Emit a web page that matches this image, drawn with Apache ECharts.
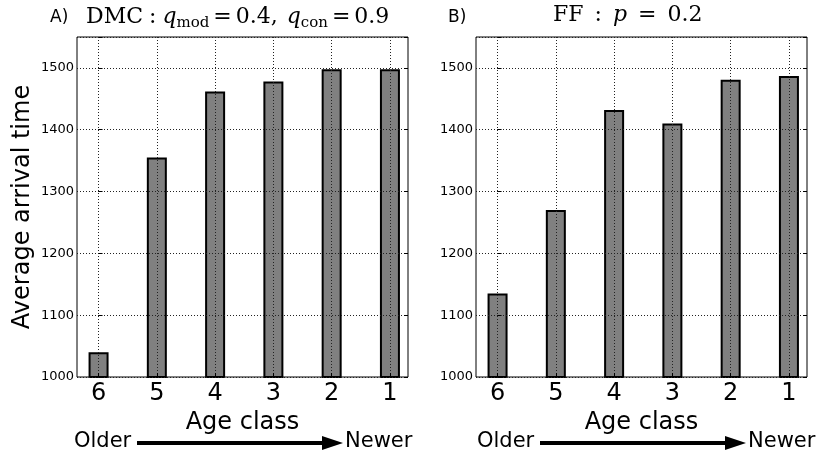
<!DOCTYPE html>
<html>
<head>
<meta charset="utf-8">
<script src="https://cdn.jsdelivr.net/npm/echarts@6/dist/echarts.min.js"></script>
<style>
  html, body { margin: 0; padding: 0; background: #fff; }
  #chart { width: 817px; height: 456px; }
</style>
</head>
<body>
<div id="chart"></div>
<script>
// Age classes, oldest first
const ageClasses = ['6', '5', '4', '3', '2', '1'];
const ageIndex = [0, 1, 2, 3, 4, 5];
// Average arrival time per age class
const dmcTimes = [1040, 1355, 1462, 1478, 1498, 1498];
const ffTimes = [1135, 1270, 1432, 1410, 1481, 1487];
const yMin = 1000, yMax = 1550, yStep = 100;

const SANS = 'DejaVu Sans';
const SERIF = 'DejaVu Serif';
const gridLine = { show: true, lineStyle: { color: '#222', width: 1, type: [1, 2] } };

// axes live on a layer above the bars so the dotted grid runs through them
function xAxisFor(gi) {
  return {
    gridIndex: gi, type: 'value', min: -0.37, max: 5.31, zlevel: 1,
    axisLine: { show: false },
    axisTick: { show: true, inside: true, length: 4, customValues: ageIndex, lineStyle: { color: '#000' } },
    axisLabel: {
      customValues: ageIndex, margin: 5, fontSize: 24, fontFamily: SANS, color: '#000',
      formatter: v => ageClasses[Math.round(v)]
    },
    splitLine: gridLine,
    name: 'Age class', nameLocation: 'middle', nameGap: 27,
    nameTextStyle: { fontSize: 24, fontFamily: SANS, color: '#000' }
  };
}
function yAxisFor(gi, withName) {
  return {
    gridIndex: gi, type: 'value', min: yMin, max: yMax, interval: yStep, zlevel: 1,
    axisLine: { show: false },
    axisTick: { show: true, inside: true, length: 4, lineStyle: { color: '#000' } },
    axisLabel: {
      margin: 3, fontSize: 13, fontFamily: SANS, color: '#000',
      formatter: v => (v % yStep === 0 ? String(v) : '')
    },
    splitLine: gridLine,
    name: withName ? 'Average arrival time' : '',
    nameLocation: 'middle', nameGap: 42, nameRotate: 90,
    nameTextStyle: { fontSize: 24, fontFamily: SANS, color: '#000' }
  };
}
function yRightFor(gi) {
  return {
    gridIndex: gi, type: 'value', min: yMin, max: yMax, interval: yStep, position: 'right', zlevel: 1,
    axisLine: { show: false },
    axisTick: { show: true, inside: true, length: 4, lineStyle: { color: '#000' } },
    axisLabel: { show: false }, splitLine: { show: false }
  };
}
function barSeries(gi, values) {
  return {
    type: 'bar', xAxisIndex: gi, yAxisIndex: gi * 2,
    data: ageIndex.map(i => [i, values[i]]),
    barWidth: 20,
    itemStyle: { color: '#808080', borderColor: '#000', borderWidth: 2 },
    silent: true
  };
}
function arrow(dx) {
  return [
    { type: 'text', left: 74 + dx, top: 431, style: { text: 'Older', fontSize: 21, fontFamily: SANS, fill: '#000' } },
    { type: 'line', shape: { x1: 137 + dx, y1: 443, x2: 325 + dx, y2: 443 }, style: { stroke: '#000', lineWidth: 4 } },
    { type: 'polygon', shape: { points: [[322 + dx, 436], [343 + dx, 443], [322 + dx, 450]] }, style: { fill: '#000' } },
    { type: 'text', left: 345 + dx, top: 431, style: { text: 'Newer', fontSize: 21, fontFamily: SANS, fill: '#000' } }
  ];
}
// math-style title pieces: upright, italic, subscript and fixed gaps
const titleRich = {
  n: { fontSize: 22, fontFamily: SERIF, color: '#000', lineHeight: 30 },
  i: { fontSize: 22, fontFamily: SERIF, fontStyle: 'italic', color: '#000', lineHeight: 30 },
  s: { fontSize: 15, fontFamily: SERIF, color: '#000', lineHeight: 30, padding: [12, 0, 0, 0] },
  g4: { fontSize: 22, lineHeight: 30, width: 4 },
  g6: { fontSize: 22, lineHeight: 30, width: 6 },
  g9: { fontSize: 22, lineHeight: 30, width: 9 },
  g11: { fontSize: 22, lineHeight: 30, width: 11 }
};

const chart = echarts.init(document.getElementById('chart'), null, { renderer: 'canvas' });
chart.setOption({
  backgroundColor: '#fff',
  animation: false,
  grid: [
    { left: 77, top: 37, width: 331, height: 340, show: true, borderColor: '#000', borderWidth: 1, backgroundColor: 'transparent', zlevel: 1 },
    { left: 476, top: 37, width: 331, height: 340, show: true, borderColor: '#000', borderWidth: 1, backgroundColor: 'transparent', zlevel: 1 }
  ],
  xAxis: [xAxisFor(0), xAxisFor(1)],
  yAxis: [yAxisFor(0, true), yRightFor(0), yAxisFor(1, false), yRightFor(1)],
  series: [barSeries(0, dmcTimes), barSeries(1, ffTimes)],
  graphic: [
    { type: 'text', left: 50, top: 9, style: { text: 'A)', fontSize: 17, fontFamily: SANS, fill: '#000' } },
    { type: 'text', left: 448, top: 9, style: { text: 'B)', fontSize: 17, fontFamily: SANS, fill: '#000' } },
    { type: 'text', left: 86, top: 4, style: {
        text: '{n|DMC}{g6| }{n|:}{g6| }{i|q}{s|mod}{g4| }{n|=}{g4| }{n|0.4,}{g9| }{i|q}{s|con}{g4| }{n|=}{g4| }{n|0.9}',
        rich: titleRich } },
    { type: 'text', left: 553, top: 4, style: {
        text: '{n|FF}{g11| }{n|:}{g11| }{i|p}{g11| }{n|=}{g11| }{n|0.2}',
        rich: titleRich } },
    ...arrow(0),
    ...arrow(403)
  ]
});
</script>
</body>
</html>
